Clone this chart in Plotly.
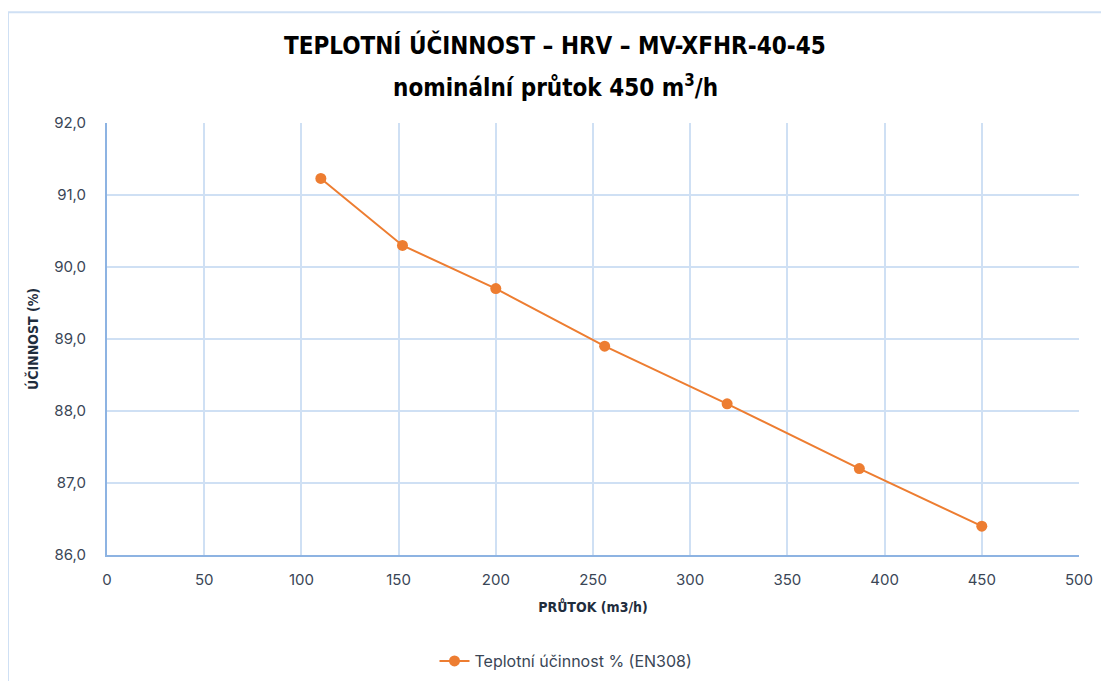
import plotly.graph_objects as go

flow = [110, 152, 200, 256, 319, 387, 450]
efficiency = [91.23, 90.3, 89.7, 88.9, 88.1, 87.2, 86.4]
series_name = "Teplotní účinnost % (EN308)"
title_line1 = "TEPLOTNÍ ÚČINNOST – HRV – MV-XFHR-40-45"
title_line2 = "nominální průtok 450 m<sup>3</sup>/h"
x_title = "PRŮTOK (m3/h)"
y_title = "ÚČINNOST (%)"

orange = "#ED7D31"
grid = "#CFE0F4"
axis_line = "#8DB3E2"
tick_color = "#3A4656"
title_font = "DejaVu Sans Condensed, DejaVu Sans"

fig = go.Figure()
fig.add_trace(go.Scatter(
    x=flow, y=efficiency, mode="lines+markers", name=series_name,
    line=dict(color=orange, width=2),
    marker=dict(color=orange, size=11),
    showlegend=True,
))

PL, PT, PW, PH = 107, 123, 972, 433

def px_x(x):
    return (x - PL) / PW

def px_y(y):
    return (PT + PH - y) / PH

fig.update_layout(
    width=1109, height=681,
    margin=dict(l=PL - 8, r=1109 - (PL - 8) - PW, t=PT - 8, b=681 - (PT - 8) - PH),
    paper_bgcolor="white", plot_bgcolor="white",
    separators=", ",
    showlegend=True,
    legend=dict(orientation="h", x=px_x(566), xanchor="center", y=px_y(661), yanchor="middle",
                font=dict(family="Inter", size=16, color=tick_color)),
    annotations=[
        dict(text="<b>" + title_line1 + "</b>", xref="paper", yref="paper",
             x=px_x(555), y=px_y(45), xanchor="center", yanchor="middle",
             showarrow=False, font=dict(family=title_font, size=24, color="black")),
        dict(text="<b>" + title_line2 + "</b>", xref="paper", yref="paper",
             x=px_x(555), y=px_y(86), xanchor="center", yanchor="middle",
             showarrow=False, font=dict(family=title_font, size=24, color="black")),
    ],
    shapes=[
        dict(type="rect", xref="paper", yref="paper",
             x0=px_x(8), x1=1.2, y0=-0.6, y1=px_y(12),
             line=dict(color=grid, width=2), fillcolor="rgba(0,0,0,0)", layer="below"),
    ],
)

fig.update_xaxes(
    range=[0, 500], dtick=50, tick0=0,
    showgrid=True, gridcolor=grid, gridwidth=2,
    showline=True, linecolor=axis_line, linewidth=2,
    zeroline=False, ticks="", ticklabelstandoff=10,
    tickfont=dict(family="Inter", size=15, color=tick_color),
    title=dict(text="<b>" + x_title + "</b>", standoff=14,
               font=dict(family=title_font, size=14, color="#1F2D3D")),
)
fig.update_yaxes(
    range=[86, 92], dtick=1, tick0=86, tickformat=".1f",
    showgrid=True, gridcolor=grid, gridwidth=2,
    showline=True, linecolor=axis_line, linewidth=2,
    zeroline=False, ticks="", ticklabelstandoff=16,
    tickfont=dict(family="Inter", size=15, color=tick_color),
    title=dict(text="<b>" + y_title + "</b>", standoff=12,
               font=dict(family=title_font, size=14, color="#1F2D3D")),
)

fig.write_html("out.html")
